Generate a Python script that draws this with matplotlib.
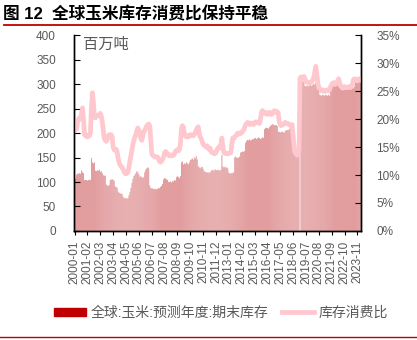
import numpy as np
import pandas as pd
import matplotlib
matplotlib.use("Agg")
import matplotlib.pyplot as plt
from matplotlib.patches import Patch
from matplotlib.lines import Line2D
from matplotlib.ticker import FuncFormatter

plt.rcParams['font.family'] = ['Liberation Sans', 'Noto Sans CJK SC']

title = "图 12  全球玉米库存消费比保持平稳"
unit_label = "百万吨"
bar_name = "全球:玉米:预测年度:期末库存"
line_name = "库存消费比"

# monthly, 2000-01 .. 2024-02
months = pd.period_range("2000-01", "2024-02", freq="M").strftime("%Y-%m").tolist()

# ending stocks, million tonnes
stocks = [
    107, 107, 115, 117, 117, 118, 117, 124, 120, 118, 104, 104,  # 2000
    104, 103, 104, 105, 104, 149, 140, 138, 140, 123, 122, 124,  # 2001
    123, 125, 121, 122, 118, 114, 113, 113, 95, 93, 92, 94,      # 2002
    104, 105, 106, 104, 103, 91, 90, 88, 80, 78, 77, 76,         # 2003
    76, 70, 67, 67, 67, 66, 67, 73, 80, 88, 98, 106,             # 2004
    112, 115, 118, 122, 120, 116, 110, 112, 110, 108, 110, 120,  # 2005
    125, 128, 130, 128, 93, 88, 87, 87, 86, 85, 86, 85,          # 2006
    86, 88, 87, 90, 92, 96, 105, 108, 107, 106, 104, 100,        # 2007
    100, 101, 99, 102, 101, 104, 103, 110, 112, 110, 108, 112,   # 2008
    140, 142, 136, 138, 137, 140, 138, 136, 140, 145, 146, 148,  # 2009
    145, 150, 148, 153, 146, 132, 130, 128, 130, 131, 127, 122,  # 2010
    121, 120, 119, 120, 118, 120, 122, 125, 124, 123, 126, 124,  # 2011
    124, 125, 124, 123, 125, 155, 132, 130, 131, 129, 130, 128,  # 2012
    119, 118, 117, 118, 118, 120, 150, 152, 150, 149, 150, 152,  # 2013
    160, 161, 162, 162, 163, 180, 184, 186, 185, 187, 185, 186,  # 2014
    187, 188, 189, 190, 188, 189, 191, 190, 188, 189, 191, 190,  # 2015
    208, 210, 211, 210, 209, 212, 215, 216, 218, 217, 216, 216,  # 2016
    216, 214, 203, 202, 201, 202, 203, 202, 200, 204, 206, 206,  # 2017
    206, 208, 210, 209, 210, 160, 158, 155, 156, 158, 160, 159,  # 2018
    np.nan, 305, 306, 305, 303, 296, 295, 297, 296, 295, 298, 297,  # 2019
    296, 298, 300, 299, 302, 296, 295, 294, 278, 277, 276, 278,  # 2020
    277, 276, 278, 277, 276, 278, 276, 290, 296, 298, 297, 295,  # 2021
    300, 302, 298, 295, 292, 290, 291, 292, 290, 289, 291, 292,  # 2022
    292, 290, 291, 293, 290, 292, 291, 294, 310, 312, 310, 309,  # 2023
    312, 311,                                                    # 2024
]

# stock-to-use ratio, %
ratio = [
    18.0, 18.4, 18.2, 19.5, 20.0, 20.2, 20.0, 21.0, 22.0, 20.0, 17.2, 17.0,
    17.0, 16.8, 17.2, 17.0, 17.5, 22.0, 24.7, 23.0, 20.5, 20.2, 20.4, 20.6,
    20.6, 20.8, 21.0, 20.5, 19.5, 18.0, 16.5, 16.2, 16.0, 16.3, 17.0, 17.2,
    17.0, 17.2, 16.8, 15.0, 14.5, 14.4, 14.6, 14.2, 13.0, 12.2, 11.8, 11.5,
    11.4, 11.0, 10.6, 10.3, 10.2, 10.3, 10.5, 11.5, 12.5, 13.5, 14.5, 15.5,
    16.2, 16.8, 17.2, 18.0, 18.4, 18.0, 17.2, 16.5, 16.2, 17.0, 17.8, 18.0,
    18.4, 18.8, 19.0, 19.1, 18.8, 16.5, 13.8, 13.5, 13.4, 13.2, 13.3, 13.2,
    13.2, 12.8, 12.4, 12.3, 12.5, 12.8, 13.2, 14.0, 14.2, 14.0, 13.8, 13.5,
    13.6, 13.4, 13.5, 13.6, 13.5, 13.8, 14.2, 14.4, 14.5, 14.3, 14.6, 15.5,
    18.2, 18.8, 18.6, 17.5, 17.0, 16.8, 17.0, 16.8, 17.0, 17.2, 17.0, 17.2,
    17.0, 17.2, 17.5, 18.0, 18.4, 18.6, 17.6, 16.8, 16.5, 16.0, 15.5, 15.3,
    15.2, 15.0, 15.2, 14.8, 14.6, 14.8, 14.2, 14.0, 13.9, 14.0, 13.8, 14.0,
    14.5, 14.8, 15.0, 14.8, 15.5, 16.6, 15.0, 14.0, 13.9, 13.8, 13.8, 13.9,
    13.8, 13.9, 14.0, 15.5, 16.6, 16.5, 16.8, 17.0, 17.2, 17.5, 17.3, 17.5,
    17.4, 17.6, 17.8, 18.0, 18.5, 19.0, 19.2, 19.4, 19.3, 19.0, 19.2, 19.3,
    19.2, 19.0, 19.3, 19.5, 19.4, 19.3, 19.5, 19.2, 20.0, 21.2, 21.5, 21.2,
    21.0, 21.2, 21.0, 20.8, 21.0, 21.2, 21.0, 20.8, 21.0, 21.3, 21.5, 21.2,
    21.4, 21.3, 21.0, 19.5, 19.0, 18.8, 18.9, 19.0, 19.2, 19.4, 19.3, 19.2,
    19.2, 19.0, 18.9, 18.8, 19.0, 17.0, 15.0, 14.0, 13.8, 13.5, 13.9, 14.2,
    27.3, 27.5, 27.4, 27.3, 27.6, 27.2, 26.8, 26.6, 26.5, 26.4, 26.6, 26.5,
    26.6, 27.0, 27.5, 28.5, 29.4, 28.0, 26.5, 25.6, 25.4, 25.2, 25.0, 25.2,
    25.0, 24.9, 25.0, 25.2, 25.1, 25.0, 25.3, 25.8, 26.2, 26.4, 26.5, 26.3,
    26.2, 26.5, 26.8, 27.2, 26.5, 26.0, 25.7, 25.5, 25.6, 25.8, 25.7, 25.6,
    25.6, 25.7, 25.8, 25.6, 25.9, 26.0, 27.0, 27.2, 27.0, 27.1, 26.8, 27.0,
    27.2, 27.0,
]

bar_color = '#DB8486'
line_color = '#FFC7CE'
red = '#C00000'
gray = '#595959'

fig = plt.figure(figsize=(4.17, 3.40), dpi=100)
ax = fig.add_axes([0.1775, 0.3206, 0.688, 0.5764])
x = np.arange(len(months))

bars = ax.bar(x, stocks, width=0.8, color=bar_color, linewidth=0)
for b in bars:
    b.set_snap(False)
ax.set_ylim(0, 400)
ax.set_yticks(range(0, 401, 50))
ax.set_xlim(-0.6, len(months) - 0.4)
ax.set_xticks(x[::13])
ax.set_xticklabels(months[::13], rotation=90)

ax2 = ax.twinx()
ax2.plot(x, np.array(ratio) / 100, color=line_color, lw=3.4, solid_joinstyle='round')
ax2.set_ylim(0, 0.35)
ax2.set_yticks(np.arange(0, 0.351, 0.05))
ax2.yaxis.set_major_formatter(FuncFormatter(lambda v, p: f"{v*100:.0f}%"))

for a in (ax, ax2):
    a.spines['top'].set_visible(False)
    for s in ('left', 'right', 'bottom'):
        a.spines[s].set_color('black')
        a.spines[s].set_linewidth(1.0)
ax.tick_params(axis='y', direction='in', length=4, pad=13, labelsize=8.5, labelcolor=gray)
ax.tick_params(axis='x', direction='out', length=3, pad=4, labelsize=8.5, labelcolor=gray)
ax2.tick_params(axis='y', direction='in', length=4, pad=11, labelsize=8.5, labelcolor=gray)

ax.text(0.03, 0.985, unit_label, transform=ax.transAxes, ha='left', va='top',
        fontsize=11, color=gray)

fig.text(0.007, 0.958, title, fontsize=12, fontweight='bold', ha='left', va='center')
fig.add_artist(Line2D([0.01, 1.0], [0.926, 0.926], transform=fig.transFigure, color=red, lw=1.3))
fig.add_artist(Line2D([0.0, 1.0], [0.009, 0.009], transform=fig.transFigure, color=red, lw=1.0))

handles = [Patch(color=red), Line2D([0], [0], color=line_color, lw=3.4)]
fig.legend(handles, [bar_name, line_name], loc='center', bbox_to_anchor=(0.53, 0.08),
           ncol=2, frameon=False, fontsize=10, labelcolor=gray, handlelength=2.3,
           handleheight=0.5, handletextpad=0.3, columnspacing=1.0)

fig.savefig('out.png', dpi=100)
